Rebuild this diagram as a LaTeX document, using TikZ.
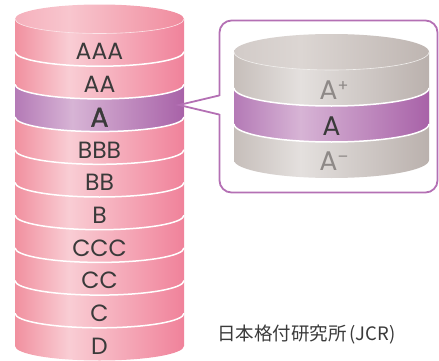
\documentclass[tikz,border=0pt]{standalone}
\usepackage{fontspec}
\setmainfont{Poppins}
\newfontfamily\jpfont{Noto Sans CJK JP}
\newfontfamily\boldAfont[FakeBold=1.2]{Poppins}
\definecolor{pkL}{HTML}{F1909F}
\definecolor{pkM}{HTML}{F9CDD4}
\definecolor{pkR}{HTML}{F0829A}
\definecolor{pkTL}{HTML}{F5B0BC}
\definecolor{pkTM}{HTML}{F8C6CE}
\definecolor{pkTR}{HTML}{F08B9E}
\definecolor{puL}{HTML}{B47AB6}
\definecolor{puM}{HTML}{D7B4D5}
\definecolor{puR}{HTML}{A862A8}
\definecolor{gyL}{HTML}{C6BEBA}
\definecolor{gyM}{HTML}{E4E0DE}
\definecolor{gyR}{HTML}{BAB1AD}
\definecolor{gyTL}{HTML}{D2CBC8}
\definecolor{gyTM}{HTML}{DCD6D3}
\definecolor{gyTR}{HTML}{BEB5B1}
\definecolor{txt}{HTML}{3A3A3A}
\definecolor{gtxt}{HTML}{8E8987}
\definecolor{callc}{HTML}{B470B4}
\pgfdeclarehorizontalshading{pinkbody}{100bp}{color(0bp)=(pkL); color(25bp)=(pkL); color(41bp)=(pkM); color(75bp)=(pkR); color(100bp)=(pkR)}
\pgfdeclarehorizontalshading{pinktop}{100bp}{color(0bp)=(pkTL); color(25bp)=(pkTL); color(41bp)=(pkTM); color(75bp)=(pkTR); color(100bp)=(pkTR)}
\pgfdeclarehorizontalshading{purpband}{100bp}{color(0bp)=(puL); color(25bp)=(puL); color(42bp)=(puM); color(75bp)=(puR); color(100bp)=(puR)}
\pgfdeclarehorizontalshading{graybody}{100bp}{color(0bp)=(gyL); color(25bp)=(gyL); color(42bp)=(gyM); color(75bp)=(gyR); color(100bp)=(gyR)}
\pgfdeclarehorizontalshading{graytop}{100bp}{color(0bp)=(gyTL); color(25bp)=(gyTL); color(42bp)=(gyTM); color(75bp)=(gyTR); color(100bp)=(gyTR)}
\begin{document}
\begin{tikzpicture}[x=1pt,y=1pt,
  lbl/.style={text=txt, font=\fontsize{23.5}{23.5}\selectfont, inner sep=0pt, anchor=center},
  rlbl/.style={text=gtxt, font=\fontsize{27}{27}\selectfont, inner sep=0pt, anchor=center},
  sep/.style={draw=white, line width=1.5pt},
  callout/.style={draw=callc, line width=1.8pt}]
\useasboundingbox (0,0) rectangle (439,360);
% ---------- left cylinder ----------
\shade[shading=pinkbody] (15,341) -- (15,14) arc[start angle=180,end angle=360,x radius=84.5pt,y radius=14.5pt] -- (184,341) -- cycle;
\shade[shading=purpband] (15,275.6) -- (15,242.9) arc[start angle=180,end angle=360,x radius=84.5pt,y radius=14.5pt] -- (184,275.6) arc[start angle=360,end angle=180,x radius=84.5pt,y radius=14.5pt] -- cycle;
\shade[shading=pinktop] (99.5,341) ellipse[x radius=84.5pt,y radius=14.5pt];
\draw[white!55!pkTM, line width=0.6pt] (15,341) arc[start angle=180,end angle=360,x radius=84.5pt,y radius=14.5pt];
\foreach \k in {1,...,9}{
  \draw[sep] (15,{341-32.7*\k}) arc[start angle=180,end angle=360,x radius=84.5pt,y radius=14.5pt];
}
\foreach \k/\t in {0/AAA,1/AA,3/BBB,4/BB,5/B,6/CCC,7/CC,8/C,9/D}{
  \node[lbl] (L\k) at (99.5,{341-32.7*\k-32.85}) {\t};
}
\node[lbl, font=\boldAfont\fontsize{27}{27}\selectfont] (L2) at (99.5,{341-32.7*2-32.85}) {A};
% ---------- callout ----------
\draw[callout, fill=white, rounded corners=12pt] (219.5,167.5) rectangle (437.5,339.5);
\draw[white, line width=3pt] (219.5,246) -- (219.5,264);
\coordinate (tip) at (179,255);
\coordinate (cu) at (219.5,264.6);
\coordinate (cl) at (219.5,245.4);
\draw[callout, line join=miter] (cu) -- (tip) -- (cl);
% ---------- right cylinder ----------
\shade[shading=graybody] (234,308) -- (234,200) arc[start angle=180,end angle=360,x radius=97.5pt,y radius=18pt] -- (429,308) -- cycle;
\shade[shading=purpband] (234,272) -- (234,236) arc[start angle=180,end angle=360,x radius=97.5pt,y radius=18pt] -- (429,272) arc[start angle=360,end angle=180,x radius=97.5pt,y radius=18pt] -- cycle;
\shade[shading=graytop] (331.5,308) ellipse[x radius=97.5pt,y radius=18pt];
\draw[white!60!gyTM, line width=0.6pt] (234,308) arc[start angle=180,end angle=360,x radius=97.5pt,y radius=18pt];
\draw[sep] (234,272) arc[start angle=180,end angle=360,x radius=97.5pt,y radius=18pt];
\draw[sep] (234,236) arc[start angle=180,end angle=360,x radius=97.5pt,y radius=18pt];
\node[rlbl] (Rp) at (334,270) {A\raisebox{0.3em}{\fontsize{16}{16}\selectfont +}};
\node[rlbl, text=txt] (Rm) at (331.5,234) {A};
\node[rlbl] (Rn) at (334,199) {A\raisebox{0.28em}{\fontsize{16}{16}\selectfont \char"2013}};
% ---------- source ----------
\node[anchor=west, inner sep=0pt, text=txt, font=\jpfont\fontsize{18.5}{18.5}\selectfont] (src) at (217,25) {日本格付研究所\kern3pt(JCR)};
\end{tikzpicture}
\end{document}
